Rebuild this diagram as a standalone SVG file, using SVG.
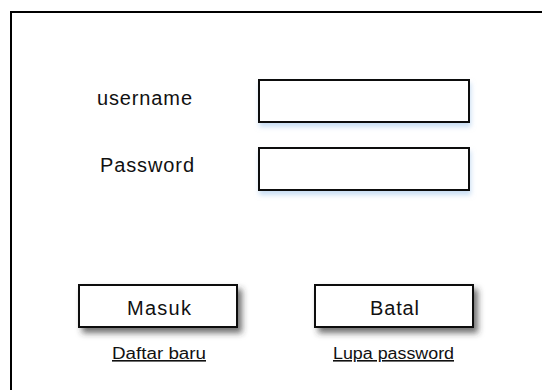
<svg xmlns="http://www.w3.org/2000/svg" width="542" height="390" viewBox="0 0 542 390">
  <defs>
    <filter id="glow" x="-10%" y="-30%" width="120%" height="180%">
      <feDropShadow dx="1" dy="4" stdDeviation="2.5" flood-color="#9cc3ea" flood-opacity="0.55"/>
    </filter>
    <filter id="shadow" x="-10%" y="-30%" width="125%" height="180%">
      <feDropShadow dx="4" dy="5" stdDeviation="3" flood-color="#333" flood-opacity="0.7"/>
    </filter>
  </defs>
  <style>
    .frame { fill: #fff; stroke: #000; stroke-width: 2; }
    .input { fill: #fff; stroke: #111; stroke-width: 2; filter: url(#glow); }
    .btn { fill: #fff; stroke: #111; stroke-width: 2; filter: url(#shadow); }
    .lbl { font-family: "Liberation Sans", Arial, sans-serif; font-size: 20px; fill: #111; }
    .btxt { font-family: "Liberation Sans", Arial, sans-serif; font-size: 20px; fill: #111; }
    .link { font-family: "Liberation Sans", Arial, sans-serif; font-size: 16px; fill: #111; text-decoration: underline; }
  </style>
  <rect width="542" height="390" fill="#fff"/>
  <g id="frame">
    <rect class="frame" x="11" y="12" width="600" height="500"/>
  </g>
  <g id="username-label">
    <text class="lbl" x="97" y="105" textLength="95" lengthAdjust="spacing">username</text>
  </g>
  <g id="username-input">
    <rect class="input" x="259" y="80" width="210" height="42"/>
  </g>
  <g id="password-label">
    <text class="lbl" x="100" y="172" textLength="94" lengthAdjust="spacing">Password</text>
  </g>
  <g id="password-input">
    <rect class="input" x="259" y="148" width="210" height="42"/>
  </g>
  <g id="masuk-button">
    <rect class="btn" x="79" y="285" width="158" height="42"/>
    <text class="btxt" x="127" y="315" textLength="64" lengthAdjust="spacing">Masuk</text>
  </g>
  <g id="batal-button">
    <rect class="btn" x="315" y="285" width="158" height="42"/>
    <text class="btxt" x="370" y="315" textLength="49" lengthAdjust="spacing">Batal</text>
  </g>
  <g id="daftar-link">
    <text class="link" x="112" y="359" textLength="94" lengthAdjust="spacingAndGlyphs">Daftar baru</text>
  </g>
  <g id="lupa-link">
    <text class="link" x="333" y="359" textLength="121" lengthAdjust="spacingAndGlyphs">Lupa password</text>
  </g>
  <g id="connectors"></g>
</svg>
